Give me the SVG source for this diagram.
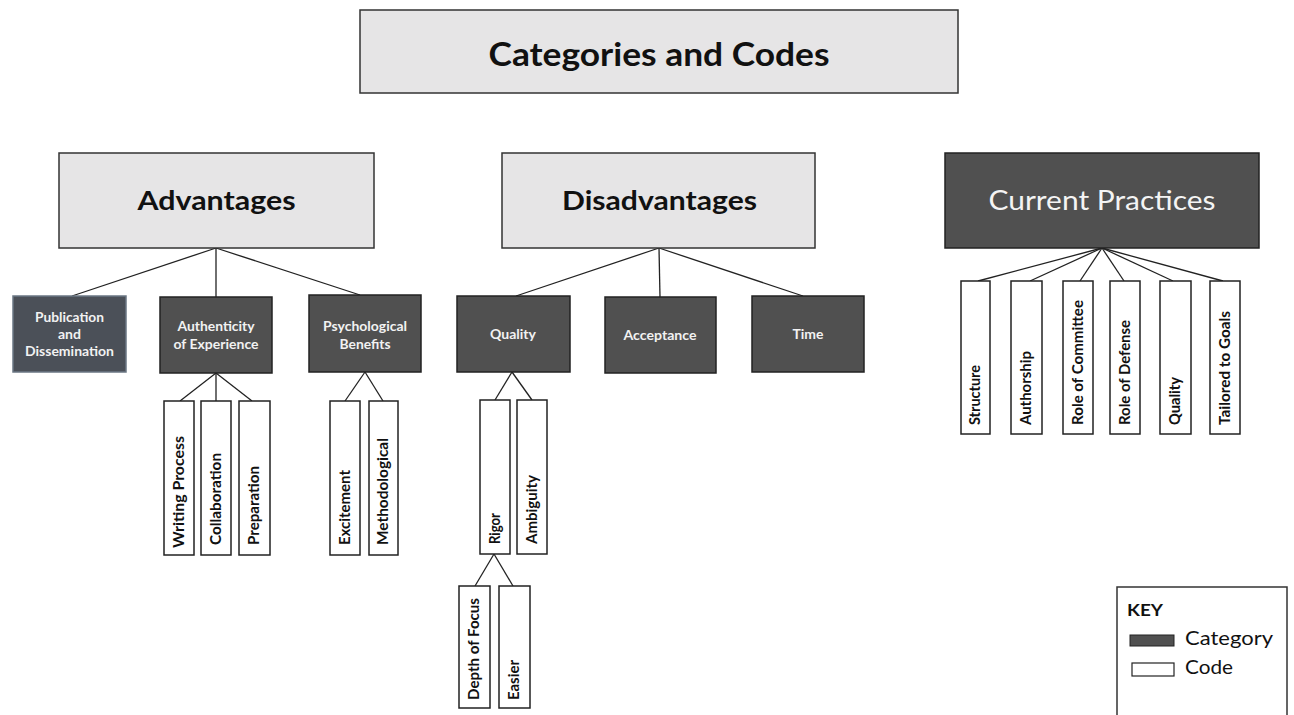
<svg xmlns="http://www.w3.org/2000/svg" width="1294" height="715" viewBox="0 0 1294 715">
<style>
.lt{fill:#e6e5e6;stroke:#333;stroke-width:1.5}
.dk{fill:#505050;stroke:#222;stroke-width:1.5}
.pub{fill:#4b5058;stroke:#6b7784;stroke-width:1.5}
.cd{fill:#fff;stroke:#222;stroke-width:1.5}
.h{font-family:Lato,"Open Sans",sans-serif;font-weight:bold;fill:#111;text-anchor:middle}
.w{font-family:Lato,"Open Sans",sans-serif;font-weight:bold;fill:#f2f2f2;text-anchor:middle;font-size:13.5px}
.v{font-family:Lato,"Open Sans",sans-serif;font-weight:bold;fill:#111;font-size:14.5px}
.k{font-family:Lato,"Open Sans",sans-serif;fill:#111}
#connectors line{stroke:#222;stroke-width:1.3}
</style>
<rect width="1294" height="715" fill="#fff"/>
<g id="connectors">
<line x1="216" y1="248" x2="72" y2="296"/>
<line x1="216" y1="248" x2="216" y2="297"/>
<line x1="216" y1="248" x2="360" y2="295"/>
<line x1="659" y1="248" x2="516" y2="296"/>
<line x1="659" y1="248" x2="660" y2="297"/>
<line x1="659" y1="248" x2="803" y2="296"/>
<line x1="1102" y1="248" x2="978" y2="281"/>
<line x1="1102" y1="248" x2="1030" y2="281"/>
<line x1="1102" y1="248" x2="1080" y2="281"/>
<line x1="1102" y1="248" x2="1124" y2="281"/>
<line x1="1102" y1="248" x2="1173" y2="281"/>
<line x1="1102" y1="248" x2="1223" y2="281"/>
<line x1="216" y1="373" x2="180" y2="401"/>
<line x1="216" y1="373" x2="216" y2="401"/>
<line x1="216" y1="373" x2="252" y2="401"/>
<line x1="365" y1="372" x2="345" y2="401"/>
<line x1="365" y1="372" x2="383" y2="401"/>
<line x1="512" y1="372" x2="495" y2="400"/>
<line x1="512" y1="372" x2="532" y2="400"/>
<line x1="494" y1="554" x2="475" y2="586"/>
<line x1="494" y1="554" x2="513" y2="586"/>
</g>
<g id="title">
<rect class="lt" x="360" y="10" width="598" height="83"/>
<text class="h" x="659" y="66" font-size="33" textLength="341" lengthAdjust="spacingAndGlyphs">Categories and Codes</text>
</g>
<g id="advantages">
<rect class="lt" x="59" y="153" width="315" height="95"/>
<text class="h" x="216.5" y="210" font-size="26" textLength="158" lengthAdjust="spacingAndGlyphs">Advantages</text>
</g>
<g id="disadvantages">
<rect class="lt" x="502" y="153" width="313" height="95"/>
<text class="h" x="659.5" y="210" font-size="26" textLength="195" lengthAdjust="spacingAndGlyphs">Disadvantages</text>
</g>
<g id="current-practices">
<rect class="dk" x="945" y="153" width="314" height="95"/>
<text x="1102" y="210" font-family="Lato,'Open Sans',sans-serif" font-size="26" fill="#f4f4f4" text-anchor="middle" textLength="227" lengthAdjust="spacingAndGlyphs">Current Practices</text>
</g>
<g id="publication">
<rect class="pub" x="13" y="296" width="113" height="76"/>
<text class="w" x="69.5" y="321.5" textLength="69" lengthAdjust="spacingAndGlyphs">Publication</text>
<text class="w" x="69.5" y="338.5" textLength="23" lengthAdjust="spacingAndGlyphs">and</text>
<text class="w" x="69.5" y="355.5" textLength="89" lengthAdjust="spacingAndGlyphs">Dissemination</text>
</g>
<g id="authenticity">
<rect class="dk" x="160" y="297" width="112" height="76"/>
<text class="w" x="216" y="331" textLength="77" lengthAdjust="spacingAndGlyphs">Authenticity</text>
<text class="w" x="216" y="349" textLength="85" lengthAdjust="spacingAndGlyphs">of Experience</text>
</g>
<g id="psychological">
<rect class="dk" x="309" y="295" width="112" height="77"/>
<text class="w" x="365" y="331" textLength="84" lengthAdjust="spacingAndGlyphs">Psychological</text>
<text class="w" x="365" y="349" textLength="51" lengthAdjust="spacingAndGlyphs">Benefits</text>
</g>
<g id="quality-cat">
<rect class="dk" x="457" y="296" width="113" height="76"/>
<text class="w" x="513" y="339" textLength="46" lengthAdjust="spacingAndGlyphs">Quality</text>
</g>
<g id="acceptance">
<rect class="dk" x="605" y="297" width="111" height="76"/>
<text class="w" x="660" y="340" textLength="73" lengthAdjust="spacingAndGlyphs">Acceptance</text>
</g>
<g id="time">
<rect class="dk" x="752" y="296" width="112" height="76"/>
<text class="w" x="808" y="339" textLength="31" lengthAdjust="spacingAndGlyphs">Time</text>
</g>
<g id="writing-process">
<rect class="cd" x="164" y="401" width="30" height="154"/>
<text class="v" transform="translate(184 548) rotate(-90)" textLength="112" lengthAdjust="spacingAndGlyphs">Writing Process</text>
</g>
<g id="collaboration">
<rect class="cd" x="201" y="401" width="30" height="154"/>
<text class="v" transform="translate(221 545) rotate(-90)" textLength="92" lengthAdjust="spacingAndGlyphs">Collaboration</text>
</g>
<g id="preparation">
<rect class="cd" x="239" y="401" width="31" height="154"/>
<text class="v" transform="translate(259 545) rotate(-90)" textLength="79" lengthAdjust="spacingAndGlyphs">Preparation</text>
</g>
<g id="excitement">
<rect class="cd" x="330" y="401" width="30" height="154"/>
<text class="v" transform="translate(350 545) rotate(-90)" textLength="75" lengthAdjust="spacingAndGlyphs">Excitement</text>
</g>
<g id="methodological">
<rect class="cd" x="369" y="401" width="29" height="154"/>
<text class="v" transform="translate(388 545) rotate(-90)" textLength="107" lengthAdjust="spacingAndGlyphs">Methodological</text>
</g>
<g id="rigor">
<rect class="cd" x="480" y="400" width="30" height="154"/>
<text class="v" transform="translate(500 544) rotate(-90)" textLength="31" lengthAdjust="spacingAndGlyphs">Rigor</text>
</g>
<g id="ambiguity">
<rect class="cd" x="517" y="400" width="30" height="154"/>
<text class="v" transform="translate(537 544) rotate(-90)" textLength="69" lengthAdjust="spacingAndGlyphs">Ambiguity</text>
</g>
<g id="depth-of-focus">
<rect class="cd" x="459" y="586" width="31" height="122"/>
<text class="v" transform="translate(479 700) rotate(-90)" textLength="102" lengthAdjust="spacingAndGlyphs">Depth of Focus</text>
</g>
<g id="easier">
<rect class="cd" x="499" y="586" width="31" height="122"/>
<text class="v" transform="translate(519 700) rotate(-90)" textLength="40" lengthAdjust="spacingAndGlyphs">Easier</text>
</g>
<g id="structure">
<rect class="cd" x="961" y="281" width="29" height="153"/>
<text class="v" transform="translate(980 425) rotate(-90)" textLength="60" lengthAdjust="spacingAndGlyphs">Structure</text>
</g>
<g id="authorship">
<rect class="cd" x="1011" y="281" width="31" height="153"/>
<text class="v" transform="translate(1031 425) rotate(-90)" textLength="74" lengthAdjust="spacingAndGlyphs">Authorship</text>
</g>
<g id="role-of-committee">
<rect class="cd" x="1063" y="281" width="30" height="153"/>
<text class="v" transform="translate(1083 425) rotate(-90)" textLength="125" lengthAdjust="spacingAndGlyphs">Role of Committee</text>
</g>
<g id="role-of-defense">
<rect class="cd" x="1110" y="281" width="30" height="153"/>
<text class="v" transform="translate(1130 425) rotate(-90)" textLength="105" lengthAdjust="spacingAndGlyphs">Role of Defense</text>
</g>
<g id="quality-code">
<rect class="cd" x="1160" y="281" width="31" height="153"/>
<text class="v" transform="translate(1180 425) rotate(-90)" textLength="48" lengthAdjust="spacingAndGlyphs">Quality</text>
</g>
<g id="tailored-to-goals">
<rect class="cd" x="1210" y="281" width="30" height="153"/>
<text class="v" transform="translate(1230 425) rotate(-90)" textLength="114" lengthAdjust="spacingAndGlyphs">Tailored to Goals</text>
</g>
<g id="key">
<rect x="1117" y="587" width="170" height="140" fill="#fff" stroke="#333" stroke-width="1.5"/>
<text class="k" x="1127" y="616" font-size="17" font-weight="bold" textLength="36" lengthAdjust="spacingAndGlyphs">KEY</text>
<rect x="1130" y="635" width="44" height="11" fill="#505050" stroke="#222" stroke-width="1"/>
<text class="k" x="1185" y="645" font-size="19" textLength="88" lengthAdjust="spacingAndGlyphs">Category</text>
<rect x="1132" y="663" width="42" height="13" fill="#fff" stroke="#222" stroke-width="1.2"/>
<text class="k" x="1185" y="674" font-size="19" textLength="48" lengthAdjust="spacingAndGlyphs">Code</text>
</g>
</svg>
